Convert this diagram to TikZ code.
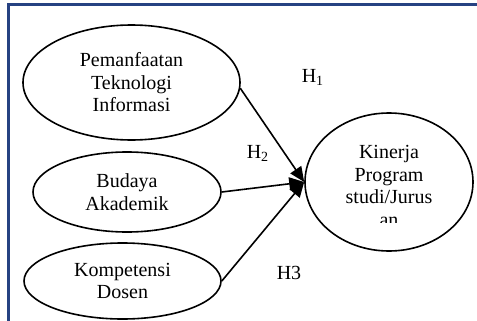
\documentclass[tikz,border=0pt]{standalone}
\usepackage{fontspec}
\setmainfont{Liberation Serif}
\usetikzlibrary{arrows.meta,shapes}
\definecolor{frameblue}{RGB}{38,66,130}
\tikzset{%
  >={Triangle[width=6.5pt,length=7.5pt]},
  % Specifications for style of nodes:
        oval/.style = {ellipse, draw=black, line width=0.8pt, inner sep=0pt,
                       align=center, font={\fontsize{10pt}{11.25pt}\selectfont}},
    hyptext/.style = {inner sep=0pt, font={\fontsize{10pt}{11.25pt}\selectfont}},
       link/.style = {->, line width=0.8pt},
}
\begin{document}
\begin{tikzpicture}[x=0.5pt, y=-0.5pt]
\useasboundingbox (0,0) rectangle (477,321);

% frame
\draw[frameblue, line width=1.2pt] (485,4.5) -- (8.5,4.5) -- (8.5,330);

\node (PTI) [oval, minimum width=108.5pt, minimum height=57.5pt] at (131.5,82.5)
      {Pemanfaatan\\Teknologi\\Informasi};

\node (BA)  [oval, minimum width=94pt, minimum height=40pt] at (127,192)
      {Budaya\\Akademik};

\node (KD)  [oval, minimum width=98.5pt, minimum height=38pt] at (122.5,281)
      {Kompetensi\\Dosen};

\node (KP)  [oval, minimum width=84pt, minimum height=69pt] at (389,182) {};

\begin{scope}
  \clip (300,130) rectangle (480,222);
  \node (KPtext) [oval, draw=none] at (389,186) {Kinerja\\Program\\studi/Jurus\\an};
\end{scope}

\node (H1) [hyptext] at (313,77)  {H\textsubscript{1}};
\node (H2) [hyptext] at (258,153) {H\textsubscript{2}};
\node (H3) [hyptext] at (289,273) {H3};

\draw[link]           (PTI.-3) -- (KP.west);
\draw[link]           (BA.east) -- (KP.west);
\draw[link]           (KD.east) -- (KP.west);
\end{tikzpicture}
\end{document}
